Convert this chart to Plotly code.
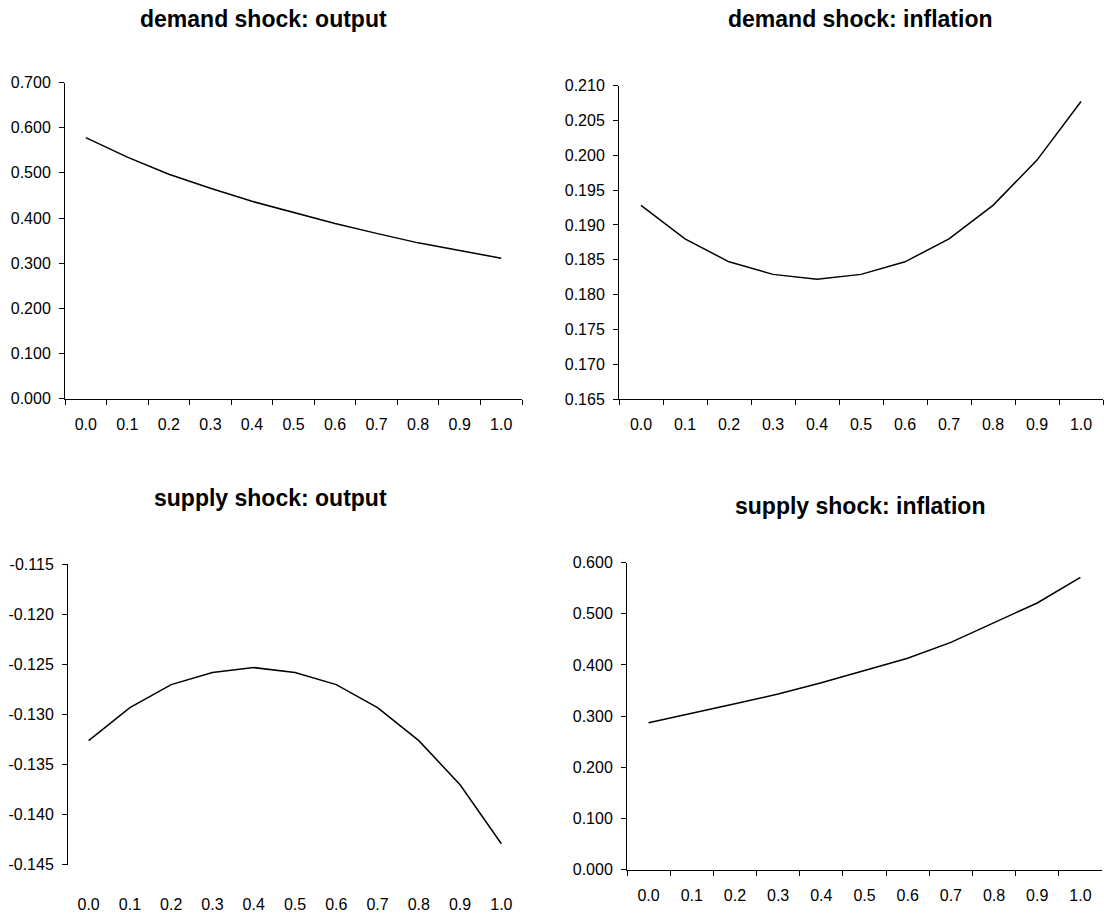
import plotly.graph_objects as go

W, H = 1104, 916

categories = ["0.0", "0.1", "0.2", "0.3", "0.4", "0.5", "0.6", "0.7", "0.8", "0.9", "1.0"]
demand_output = [0.578, 0.535, 0.497, 0.466, 0.437, 0.412, 0.388, 0.366, 0.345, 0.328, 0.311]
demand_inflation = [0.1928, 0.1880, 0.1847, 0.1829, 0.1822, 0.1829, 0.1847, 0.1880, 0.1928, 0.1993, 0.2077]
supply_output = [-0.1326, -0.1293, -0.1270, -0.1258, -0.1253, -0.1258, -0.1270, -0.1293, -0.1326, -0.1370, -0.1429]
supply_inflation = [0.287, 0.305, 0.324, 0.343, 0.365, 0.389, 0.413, 0.444, 0.482, 0.521, 0.571]
titles = ["demand shock: output", "demand shock: inflation", "supply shock: output", "supply shock: inflation"]

ticks_demand_output = [0.0, 0.1, 0.2, 0.3, 0.4, 0.5, 0.6, 0.7]
ticks_demand_inflation = [0.165, 0.170, 0.175, 0.180, 0.185, 0.190, 0.195, 0.200, 0.205, 0.210]
ticks_supply_output = [-0.145, -0.140, -0.135, -0.130, -0.125, -0.120, -0.115]
ticks_supply_inflation = [0.0, 0.1, 0.2, 0.3, 0.4, 0.5, 0.6]

FONT = "Liberation Sans, Arial, sans-serif"

def dx(a, b):
    return [a / W, b / W]

def dy(top, bottom):
    return [1 - bottom / H, 1 - top / H]

fig = go.Figure()
series = [demand_output, demand_inflation, supply_output, supply_inflation]
for i, s in enumerate(series):
    n = "" if i == 0 else str(i + 1)
    fig.add_trace(go.Scatter(x=categories, y=s, mode="lines",
                             line=dict(color="black", width=1.5),
                             xaxis="x" + n, yaxis="y" + n, showlegend=False,
                             hoverinfo="skip"))

tickfont = dict(family=FONT, size=16, color="black")

def xax(domain, anchor, showline=True, ticks="outside", standoff=11):
    return dict(domain=domain, anchor=anchor, type="category", categoryorder="array",
                categoryarray=categories, range=[-0.5, 10.5], tickson="boundaries",
                ticks=ticks, ticklen=5, tickcolor="black", tickwidth=1,
                showline=showline, linecolor="black", linewidth=1,
                showgrid=False, zeroline=False, tickfont=tickfont, fixedrange=True,
                ticklabelstandoff=standoff)

def yax(domain, anchor, tv):
    return dict(domain=domain, anchor=anchor, range=[tv[0], tv[-1]],
                tickvals=tv, ticktext=["%.3f" % v for v in tv],
                ticks="outside", ticklen=5, tickcolor="black",
                showline=True, linecolor="black", linewidth=1, showgrid=False,
                zeroline=False, tickfont=tickfont, fixedrange=True,
                ticklabelstandoff=5)

layout = dict(
    width=W, height=H, margin=dict(l=0, r=0, t=0, b=0),
    paper_bgcolor="white", plot_bgcolor="white",
    xaxis=xax(dx(65, 522), "y"),
    yaxis=yax(dy(76, 398), "x", ticks_demand_output),
    xaxis2=xax(dx(619, 1103), "y2"),
    yaxis2=yax(dy(79, 398.5), "x2", ticks_demand_inflation),
    xaxis3=xax(dx(68, 522), "y3", showline=False, ticks="", standoff=28),
    yaxis3=yax(dy(567, 873), "x3", ticks_supply_output),
    xaxis4=xax(dx(627, 1102), "y4"),
    yaxis4=yax(dy(565, 878), "x4", ticks_supply_inflation),
    xaxis5=dict(domain=dx(68, 522), anchor="y3", overlaying="x3", side="top",
                range=[-0.5, 10.5], tickvals=[k - 0.5 for k in range(12)],
                ticks="inside", ticklen=5, tickcolor="black", showticklabels=False,
                showline=True, linecolor="black", linewidth=1, showgrid=False,
                zeroline=False, fixedrange=True),
)
fig.update_layout(**layout)

title_pos = [(263, 11), (860, 11), (270, 499), (860, 507)]
for t, (px, py) in zip(titles, title_pos):
    fig.add_annotation(text="<b>" + t + "</b>", x=px / W, y=1 - py / H,
                       xref="paper", yref="paper", showarrow=False,
                       xanchor="center", yanchor="middle",
                       font=dict(family=FONT, size=23, color="black"))

fig.write_html("out.html", config={"displayModeBar": False},
               post_script="document.body.style.margin='0px';document.body.style.overflow='hidden';")
